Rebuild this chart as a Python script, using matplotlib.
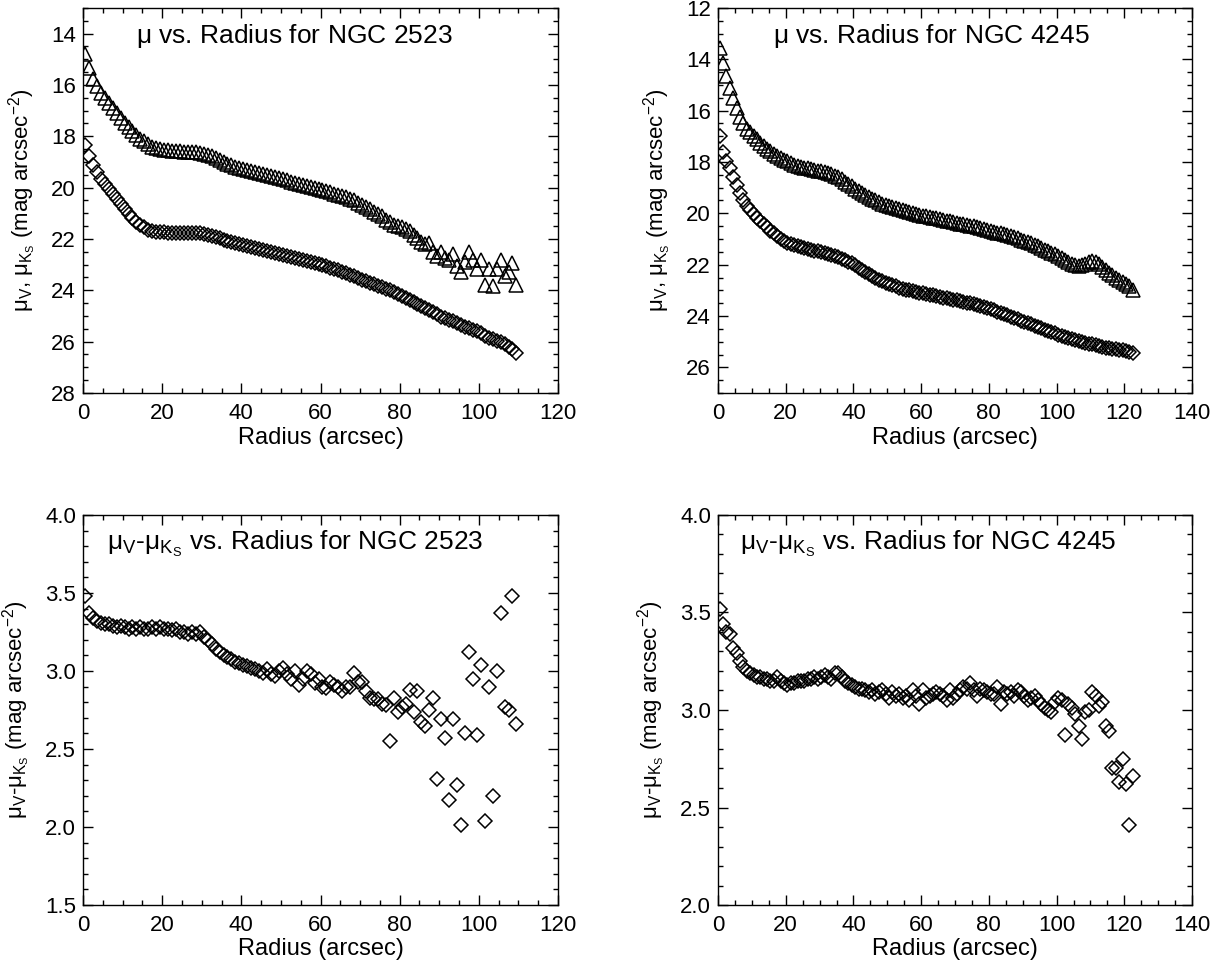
import numpy as np
import matplotlib
matplotlib.use("Agg")
import matplotlib.pyplot as plt
from matplotlib.ticker import MultipleLocator, FormatStrFormatter

plt.rcParams['font.family'] = ['Liberation Sans', 'DejaVu Sans']
plt.rcParams['mathtext.fontset'] = 'custom'
plt.rcParams['mathtext.rm'] = 'Liberation Sans'
plt.rcParams['mathtext.it'] = 'Liberation Sans'
plt.rcParams['mathtext.default'] = 'regular'

# ---- NGC 2523 (radius samples every arcsec) ----
r_2523 = np.arange(110) + 0.5
muK_2523 = [14.8, 15.35, 15.75, 16.05, 16.3, 16.5, 16.7, 16.9, 17.1, 17.3,
            17.5, 17.65, 17.8, 17.95, 18.1, 18.2, 18.3, 18.4, 18.45, 18.5,
            18.52, 18.55, 18.57, 18.58, 18.58, 18.6, 18.6, 18.6, 18.62, 18.64,
            18.67, 18.72, 18.78, 18.85, 18.92, 19.0, 19.07, 19.13, 19.18, 19.23,
            19.28, 19.32, 19.36, 19.4, 19.44, 19.48, 19.52, 19.56, 19.6, 19.64,
            19.68, 19.72, 19.76, 19.8, 19.84, 19.88, 19.92, 19.96, 20.0, 20.04,
            20.08, 20.13, 20.18, 20.23, 20.28, 20.33, 20.38, 20.43, 20.5, 20.58,
            20.66, 20.75, 20.84, 20.93, 21.02, 21.12, 21.25, 21.35, 21.45, 21.5,
            21.55, 21.6, 21.7, 21.85, 21.95, 22.1, 22.2, 22.15, 22.5, 22.65,
            22.5, 22.75, 22.8, 22.6, 23.05, 23.3, 22.9, 22.5, 22.8, 23.15,
            22.8, 23.8, 23.15, 23.85, 23.15, 22.8, 23.45, 23.3, 22.95, 23.8]
muV_2523 = [18.35, 18.75, 19.1, 19.4, 19.65, 19.85, 20.05, 20.25, 20.45, 20.65,
            20.85, 21.02, 21.18, 21.32, 21.45, 21.55, 21.63, 21.68, 21.71, 21.73,
            21.74, 21.75, 21.75, 21.75, 21.75, 21.75, 21.75, 21.76, 21.77, 21.78,
            21.8, 21.83, 21.87, 21.92, 21.97, 22.02, 22.07, 22.11, 22.15, 22.19,
            22.23, 22.27, 22.31, 22.35, 22.39, 22.43, 22.47, 22.51, 22.55, 22.59,
            22.63, 22.66, 22.7, 22.74, 22.78, 22.82, 22.86, 22.9, 22.94, 22.98,
            23.02, 23.07, 23.12, 23.17, 23.22, 23.28, 23.34, 23.4, 23.46, 23.52,
            23.58, 23.64, 23.7, 23.76, 23.82, 23.88, 23.94, 24.0, 24.07, 24.14,
            24.22, 24.3, 24.38, 24.46, 24.54, 24.62, 24.7, 24.78, 24.86, 24.94,
            25.02, 25.08, 25.14, 25.2, 25.27, 25.34, 25.42, 25.48, 25.54, 25.6,
            25.68, 25.78, 25.85, 25.9, 25.98, 26.03, 26.08, 26.2, 26.3, 26.45]
color_2523 = [3.48, 3.37, 3.34, 3.32, 3.31, 3.3, 3.3, 3.29, 3.28, 3.29,
              3.28, 3.27, 3.28, 3.27, 3.28, 3.27, 3.27, 3.28, 3.27, 3.28,
              3.27, 3.27, 3.26, 3.27, 3.25, 3.25, 3.24, 3.25, 3.24, 3.25,
              3.22, 3.2, 3.17, 3.14, 3.12, 3.1, 3.09, 3.08, 3.06, 3.05,
              3.04, 3.03, 3.02, 3.01, 3.0, 2.99, 3.01, 2.98, 2.97, 3.0,
              3.02, 2.98, 2.95, 3.0, 2.91, 2.95, 3.0, 2.98, 2.92, 2.95,
              2.9, 2.89, 2.93, 2.91, 2.9, 2.87, 2.9, 2.9, 2.99, 2.93,
              2.93, 2.87, 2.83, 2.82, 2.82, 2.79, 2.78, 2.55, 2.83, 2.74,
              2.77, 2.79, 2.88, 2.74, 2.87, 2.67, 2.65, 2.75, 2.83, 2.31,
              2.69, 2.57, 2.17, 2.69, 2.27, 2.01, 2.6, 3.12, 2.95, 2.59,
              3.04, 2.04, 2.9, 2.2, 3.0, 3.37, 2.77, 2.75, 3.48, 2.66]

# ---- NGC 4245 ----
r_4245 = np.arange(123) + 0.5
muK_4245 = [13.55, 14.15, 14.65, 15.1, 15.5, 15.9, 16.25, 16.5, 16.7, 16.85,
            17.0, 17.12, 17.25, 17.37, 17.48, 17.58, 17.68, 17.76, 17.85, 17.92,
            17.98, 18.04, 18.1, 18.15, 18.19, 18.22, 18.25, 18.28, 18.31, 18.34,
            18.37, 18.4, 18.44, 18.48, 18.54, 18.6, 18.68, 18.77, 18.86, 18.95,
            19.04, 19.13, 19.22, 19.3, 19.37, 19.44, 19.5, 19.56, 19.62, 19.67,
            19.72, 19.76, 19.8, 19.84, 19.88, 19.92, 19.96, 20.0, 20.03, 20.06,
            20.09, 20.12, 20.15, 20.18, 20.2, 20.23, 20.26, 20.28, 20.31, 20.34,
            20.37, 20.4, 20.42, 20.45, 20.48, 20.51, 20.54, 20.58, 20.62, 20.66,
            20.7, 20.73, 20.76, 20.78, 20.8, 20.84, 20.88, 20.92, 20.97, 21.02,
            21.07, 21.12, 21.17, 21.23, 21.29, 21.35, 21.41, 21.47, 21.53, 21.6,
            21.67, 21.74, 21.82, 21.9, 21.96, 22.02, 22.05, 22.02, 21.96, 21.9,
            21.86, 21.9, 21.98, 22.08, 22.2, 22.32, 22.42, 22.52, 22.6, 22.68,
            22.76, 22.85, 23.0]
muV_4245 = [17.0, 17.6, 17.95, 18.25, 18.6, 18.9, 19.2, 19.48, 19.7, 19.88,
            20.03, 20.17, 20.3, 20.43, 20.55, 20.67, 20.78, 20.9, 20.99, 21.07,
            21.14, 21.2, 21.25, 21.29, 21.33, 21.36, 21.39, 21.42, 21.45, 21.48,
            21.51, 21.54, 21.58, 21.62, 21.66, 21.71, 21.76, 21.82, 21.88, 21.95,
            22.03, 22.12, 22.21, 22.3, 22.38, 22.45, 22.52, 22.58, 22.64, 22.7,
            22.75, 22.8, 22.85, 22.89, 22.93, 22.97, 23.0, 23.03, 23.06, 23.09,
            23.12, 23.15, 23.17, 23.2, 23.22, 23.25, 23.28, 23.3, 23.33, 23.36,
            23.39, 23.42, 23.45, 23.48, 23.51, 23.54, 23.57, 23.61, 23.65, 23.69,
            23.73, 23.78, 23.83, 23.88, 23.93, 23.98, 24.03, 24.08, 24.13, 24.18,
            24.23, 24.28, 24.33, 24.38, 24.43, 24.48, 24.53, 24.58, 24.63, 24.68,
            24.73, 24.78, 24.82, 24.86, 24.9, 24.94, 24.98, 25.02, 25.05, 25.08,
            25.11, 25.14, 25.17, 25.2, 25.23, 25.26, 25.28, 25.3, 25.32, 25.34,
            25.36, 25.39, 25.45]
color_4245 = [3.52, 3.44, 3.4, 3.39, 3.32, 3.29, 3.25, 3.22, 3.2, 3.19,
              3.18, 3.17, 3.17, 3.16, 3.16, 3.15, 3.15, 3.17, 3.15, 3.14,
              3.13, 3.14, 3.14, 3.15, 3.15, 3.15, 3.16, 3.16, 3.17, 3.16,
              3.17, 3.18, 3.17, 3.16, 3.19, 3.19, 3.17, 3.15, 3.14, 3.13,
              3.12, 3.11, 3.11, 3.1, 3.09, 3.1, 3.08, 3.09, 3.1, 3.08,
              3.06, 3.09, 3.07, 3.08, 3.06, 3.07, 3.05, 3.1, 3.07, 3.03,
              3.1, 3.06, 3.07, 3.08, 3.09, 3.08, 3.07, 3.05, 3.1, 3.06,
              3.08, 3.1, 3.12, 3.11, 3.14, 3.1, 3.07, 3.11, 3.1, 3.09,
              3.08, 3.08, 3.12, 3.03, 3.09, 3.08, 3.09, 3.07, 3.1, 3.09,
              3.07, 3.05, 3.06, 3.07, 3.05, 3.03, 3.01, 3.0, 2.99, 3.04,
              3.06, 3.05, 2.87, 3.03, 3.01, 2.98, 2.92, 2.85, 2.99, 3.0,
              3.09, 3.07, 3.02, 3.04, 2.92, 2.89, 2.7, 2.7, 2.63, 2.75,
              2.62, 2.41, 2.66]

W, H = 1228, 972
fig = plt.figure(figsize=(W / 100, H / 100), dpi=100)


def box(left, top, right, bottom):
    return [left / W, 1 - bottom / H, (right - left) / W, (bottom - top) / H]


ax_tl = fig.add_axes(box(83, 8, 558, 393))
ax_tr = fig.add_axes(box(718, 8, 1192, 393))
ax_bl = fig.add_axes(box(83, 515, 558, 905))
ax_br = fig.add_axes(box(718, 515, 1192, 905))

dkw = dict(ls='none', marker='D', ms=7.2, mfc='none', mec='black', mew=1.1)
tkw = dict(ls='none', marker='^', ms=10.5, mfc='none', mec='black', mew=1.1)

mu_label = r'$\mu_V$, $\mu_{K_S}$ (mag arcsec$^{-2}$)'
col_label = r'$\mu_V$-$\mu_{K_S}$ (mag arcsec$^{-2}$)'


def style(ax, xmax, ymaj, ymin, fmt):
    ax.set_xlim(0, xmax)
    ax.xaxis.set_major_locator(MultipleLocator(20))
    ax.xaxis.set_minor_locator(MultipleLocator(5))
    ax.yaxis.set_major_locator(MultipleLocator(ymaj))
    ax.yaxis.set_minor_locator(MultipleLocator(ymin))
    ax.yaxis.set_major_formatter(FormatStrFormatter(fmt))
    ax.tick_params(which='both', direction='in', top=True, right=True,
                   labelsize=16, width=1.0)
    ax.tick_params(which='major', length=7)
    ax.tick_params(which='minor', length=3.5)
    ax.tick_params(axis='x', pad=7)
    ax.tick_params(axis='y', pad=5)
    for s in ax.spines.values():
        s.set_linewidth(1.0)
    ax.set_xlabel('Radius (arcsec)', fontsize=17, labelpad=2)


def title(ax, x, s):
    ax.text(x, 0.927, s, transform=ax.transAxes, ha='left', va='center',
            fontsize=19)


# top row: surface brightness
ax_tl.plot(r_2523, muK_2523, **tkw)
ax_tl.plot(r_2523, muV_2523, **dkw)
style(ax_tl, 120, 2, 0.5, '%d')
ax_tl.set_ylim(28, 13)
ax_tl.set_ylabel(mu_label, fontsize=16, labelpad=9)
title(ax_tl, 0.112, r'$\mu$ vs. Radius for NGC 2523')

ax_tr.plot(r_4245, muK_4245, **tkw)
ax_tr.plot(r_4245, muV_4245, **dkw)
style(ax_tr, 140, 2, 0.5, '%d')
ax_tr.set_ylim(27, 12)
ax_tr.set_ylabel(mu_label, fontsize=16, labelpad=9)
title(ax_tr, 0.115, r'$\mu$ vs. Radius for NGC 4245')

# bottom row: colour
ax_bl.plot(r_2523, color_2523, **dkw)
style(ax_bl, 120, 0.5, 0.1, '%.1f')
ax_bl.set_ylim(1.5, 4.0)
ax_bl.set_ylabel(col_label, fontsize=16, labelpad=9)
title(ax_bl, 0.05, r'$\mu_V$-$\mu_{K_S}$ vs. Radius for NGC 2523')

ax_br.plot(r_4245, color_4245, **dkw)
style(ax_br, 140, 0.5, 0.1, '%.1f')
ax_br.set_ylim(2.0, 4.0)
ax_br.set_ylabel(col_label, fontsize=16, labelpad=9)
title(ax_br, 0.047, r'$\mu_V$-$\mu_{K_S}$ vs. Radius for NGC 4245')

fig.savefig('out.png', dpi=100)
